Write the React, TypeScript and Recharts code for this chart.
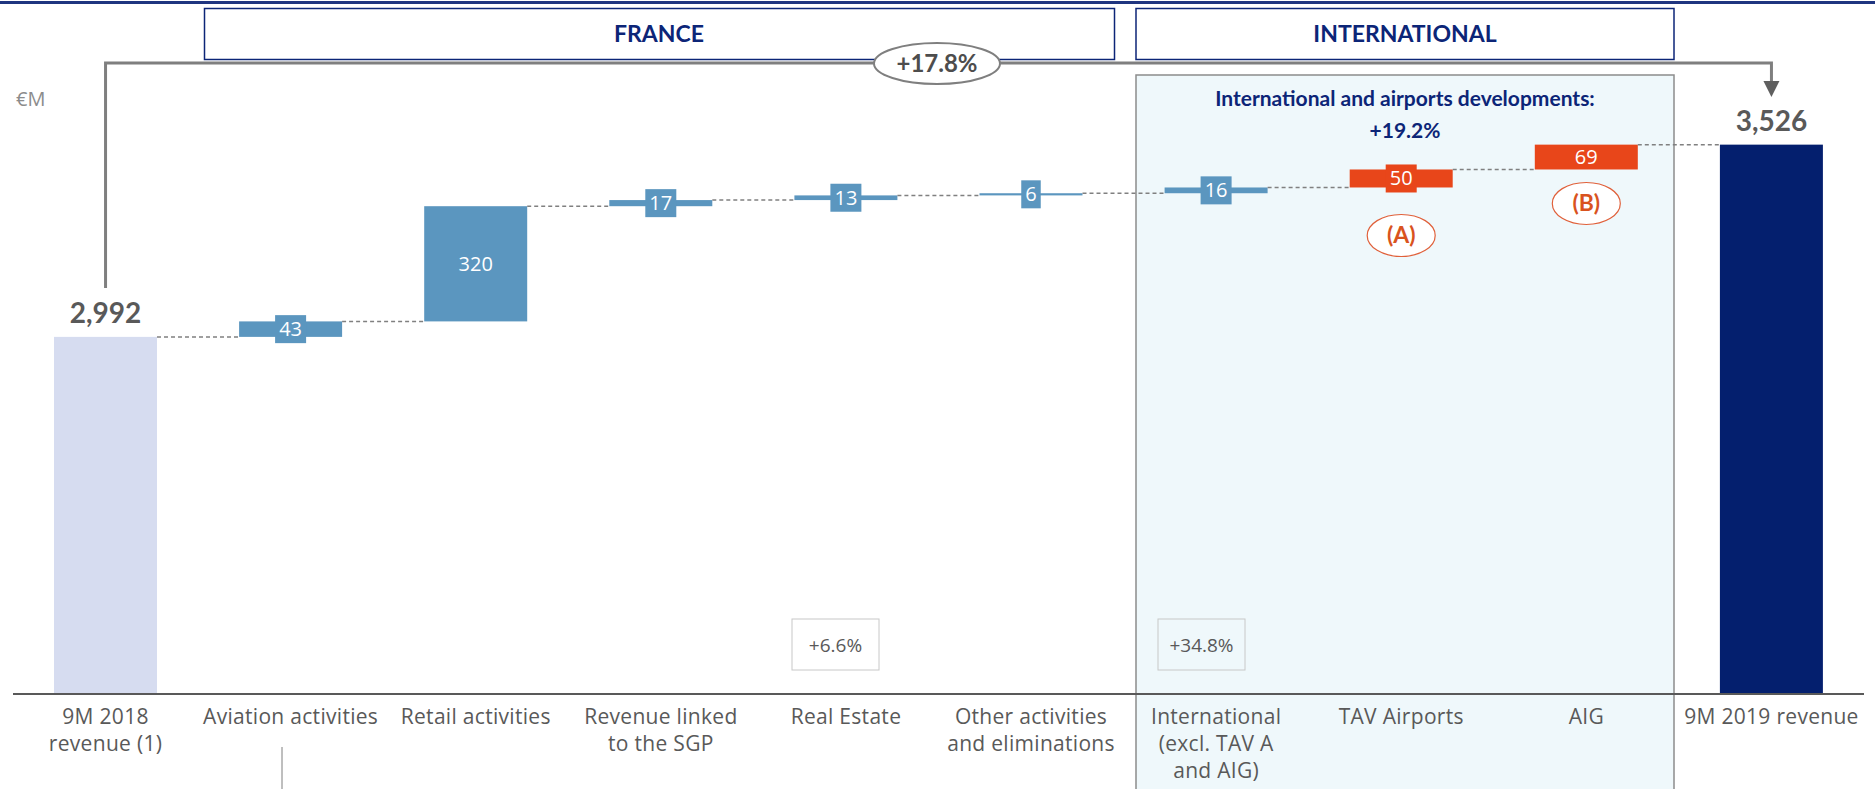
import React from 'react';
import { BarChart, Bar, XAxis, YAxis, LabelList } from 'recharts';

const categories = [
  '9M 2018\nrevenue (1)',
  'Aviation activities',
  'Retail activities',
  'Revenue linked\nto the SGP',
  'Real Estate',
  'Other activities\nand eliminations',
  'International\n(excl. TAV A\nand AIG)',
  'TAV Airports',
  'AIG',
  '9M 2019 revenue',
];
const values = [2992, 43, 320, 17, 13, 6, 16, 50, 69, 3526];
const valueLabels = ['2,992', '43', '320', '17', '13', '6', '16', '50', '69', '3,526'];
const kinds = ['start', 'delta', 'delta', 'delta', 'delta', 'delta', 'delta', 'dev', 'dev', 'end'];
const notes = ['', '', '', '', '', '', '', '(A)', '(B)', ''];

const W = 1875;
const H = 789;
const PLOT_LEFT = 13;
const PLOT_RIGHT = 1864;
const PLOT_TOP = 100;
const PLOT_BOTTOM = 694;
const STEP = (PLOT_RIGHT - PLOT_LEFT) / categories.length;
const Y_MIN = 2000;
const Y_MAX = 3650;
const FONT = "'Open Sans', 'Lato', sans-serif";
const BOLD_FONT = "'Lato', 'Open Sans', sans-serif";

const colors: Record<string, string> = {
  start: '#d6dcf0',
  delta: '#5b96bf',
  dev: '#e8461a',
  end: '#041f6e',
};

const center = (i: number) => PLOT_LEFT + STEP * (i + 0.5);

// build waterfall ranges
let running = 0;
const data = categories.map((name, i) => {
  const kind = kinds[i];
  let lo: number;
  let hi: number;
  if (kind === 'start' || kind === 'end') {
    lo = Y_MIN;
    hi = values[i];
    running = values[i];
  } else {
    lo = running;
    hi = running + values[i];
    running = hi;
  }
  return { name, idx: i, range: [lo, hi], kind };
});

const WaterfallShape = (props: any) => {
  const { x, y, width, height, payload } = props;
  const top = Math.min(y, y + height);
  const h = Math.abs(height);
  const i = payload.idx;
  return (
    <g>
      <rect x={x} y={top} width={width} height={h} fill={colors[payload.kind]} />
      {i < categories.length - 1 && (
        <line
          x1={x + width}
          x2={x + STEP}
          y1={top}
          y2={top}
          stroke="#808080"
          strokeWidth={1.5}
          strokeDasharray="4 3"
        />
      )}
    </g>
  );
};

const ValueLabel = (props: any) => {
  const { x, y, width, height, value } = props;
  const i = Number(value);
  const kind = kinds[i];
  const top = Math.min(y, y + height);
  const h = Math.abs(height);
  const cx = x + width / 2;
  const text = valueLabels[i];
  if (kind === 'start' || kind === 'end') {
    return (
      <text x={cx} y={top - 14} textAnchor="middle" fill="#595959" fontSize={28} fontWeight={700} fontFamily={BOLD_FONT}>
        {text}
      </text>
    );
  }
  const cy = top + h / 2;
  const boxW = text.length * 11.5 + 8;
  const note = notes[i];
  const noteY = i === 7 ? top + h + 48 : top + h + 34;
  return (
    <g>
      {h < 23 && <rect x={cx - boxW / 2} y={cy - 14} width={boxW} height={28} fill={colors[kind]} />}
      <text x={cx} y={cy + 7} textAnchor="middle" fill="#ffffff" fontSize={20} fontFamily={FONT}>
        {text}
      </text>
      {note && (
        <g>
          <ellipse cx={cx} cy={noteY} rx={34} ry={21} fill="#ffffff" stroke="#e0603a" strokeWidth={1.2} />
          <text x={cx} y={noteY + 8} textAnchor="middle" fill="#d9531e" fontSize={23} fontWeight={700} fontFamily={BOLD_FONT}>
            {note}
          </text>
        </g>
      )}
    </g>
  );
};

const CategoryTick = (props: any) => {
  const { x, payload } = props;
  const lines = String(payload.value).split('\n');
  return (
    <g>
      {lines.map((l, k) => (
        <text
          key={k}
          x={x}
          y={PLOT_BOTTOM + 30 + k * 27}
          textAnchor="middle"
          fill="#595959"
          fontSize={21}
          letterSpacing={0.3}
          fontFamily={FONT}
        >
          {l}
        </text>
      ))}
    </g>
  );
};

function Decorations() {
  const intlLeft = 1136;
  const intlRight = 1674;
  const navy = '#0c2577';
  const x0 = center(0);
  const x9 = center(9);
  return (
    <svg width={W} height={H} style={{ position: 'absolute', left: 0, top: 0 }}>
      <line x1={0} x2={W} y1={2.5} y2={2.5} stroke="#1f3580" strokeWidth={3} />
      {/* international shaded zone */}
      <rect x={intlLeft} y={75} width={intlRight - intlLeft} height={H} fill="#eff8fb" stroke="#8c8c8c" strokeWidth={1.5} />
      <text x={1405} y={106} textAnchor="middle" fill={navy} fontSize={21} fontWeight={700} fontFamily={BOLD_FONT}>
        International and airports developments:
      </text>
      <text x={1405} y={138} textAnchor="middle" fill={navy} fontSize={21} fontWeight={700} fontFamily={BOLD_FONT}>
        +19.2%
      </text>
      {/* header boxes */}
      <rect x={204.5} y={8.5} width={910} height={51} fill="#ffffff" stroke={navy} strokeWidth={1.5} />
      <text x={659} y={42} textAnchor="middle" fill={navy} fontSize={23} fontWeight={700} fontFamily={BOLD_FONT}>
        FRANCE
      </text>
      <rect x={intlLeft} y={8.5} width={intlRight - intlLeft} height={51} fill="#ffffff" stroke={navy} strokeWidth={1.5} />
      <text x={(intlLeft + intlRight) / 2} y={42} textAnchor="middle" fill={navy} fontSize={23} fontWeight={700} fontFamily={BOLD_FONT}>
        INTERNATIONAL
      </text>
      {/* bracket */}
      <polyline
        points={`${x0},288 ${x0},63 ${x9},63 ${x9},82`}
        fill="none"
        stroke="#7f7f7f"
        strokeWidth={3}
      />
      <polygon points={`${x9 - 8},81 ${x9 + 8},81 ${x9},97`} fill="#5f5f5f" />
      <ellipse cx={937} cy={63.5} rx={63} ry={20.5} fill="#ffffff" stroke="#7f7f7f" strokeWidth={2} />
      <text x={937} y={72} textAnchor="middle" fill="#4d4d4d" fontSize={24} fontWeight={700} fontFamily={BOLD_FONT}>
        +17.8%
      </text>
      <text x={16} y={106} fill="#8c8c8c" fontSize={20} fontFamily={FONT}>
        €M
      </text>
      {/* growth boxes */}
      <rect x={792} y={619} width={87} height={51} fill="#ffffff" stroke="#c8c8c8" strokeWidth={1} />
      <text x={835.5} y={652} textAnchor="middle" fill="#595959" fontSize={19} fontFamily={FONT}>
        +6.6%
      </text>
      <rect x={1158} y={619} width={87} height={51} fill="#eff8fb" stroke="#c8c8c8" strokeWidth={1} />
      <text x={1201.5} y={652} textAnchor="middle" fill="#595959" fontSize={19} fontFamily={FONT}>
        +34.8%
      </text>
      <line x1={282} x2={282} y1={747} y2={H} stroke="#7f7f7f" strokeWidth={1} />
    </svg>
  );
}

export default function App() {
  return (
    <div style={{ position: 'relative', width: W, height: H, fontFamily: FONT, background: '#ffffff' }}>
      <style>{'body{margin:0;}'}</style>
      <Decorations />
      <div style={{ position: 'absolute', left: 0, top: 0 }}>
        <BarChart
          width={W}
          height={H}
          data={data}
          margin={{ top: PLOT_TOP, right: W - PLOT_RIGHT, left: PLOT_LEFT, bottom: H - PLOT_BOTTOM - 90 }}
          barCategoryGap={0}
        >
          <XAxis
            dataKey="name"
            interval={0}
            tickLine={false}
            axisLine={{ stroke: '#595959', strokeWidth: 2 }}
            tick={<CategoryTick />}
            height={90}
          />
          <YAxis hide type="number" domain={[Y_MIN, Y_MAX]} allowDataOverflow />
          <Bar dataKey="range" barSize={103} shape={<WaterfallShape />} isAnimationActive={false}>
            <LabelList dataKey="idx" content={<ValueLabel />} />
          </Bar>
        </BarChart>
      </div>
    </div>
  );
}
